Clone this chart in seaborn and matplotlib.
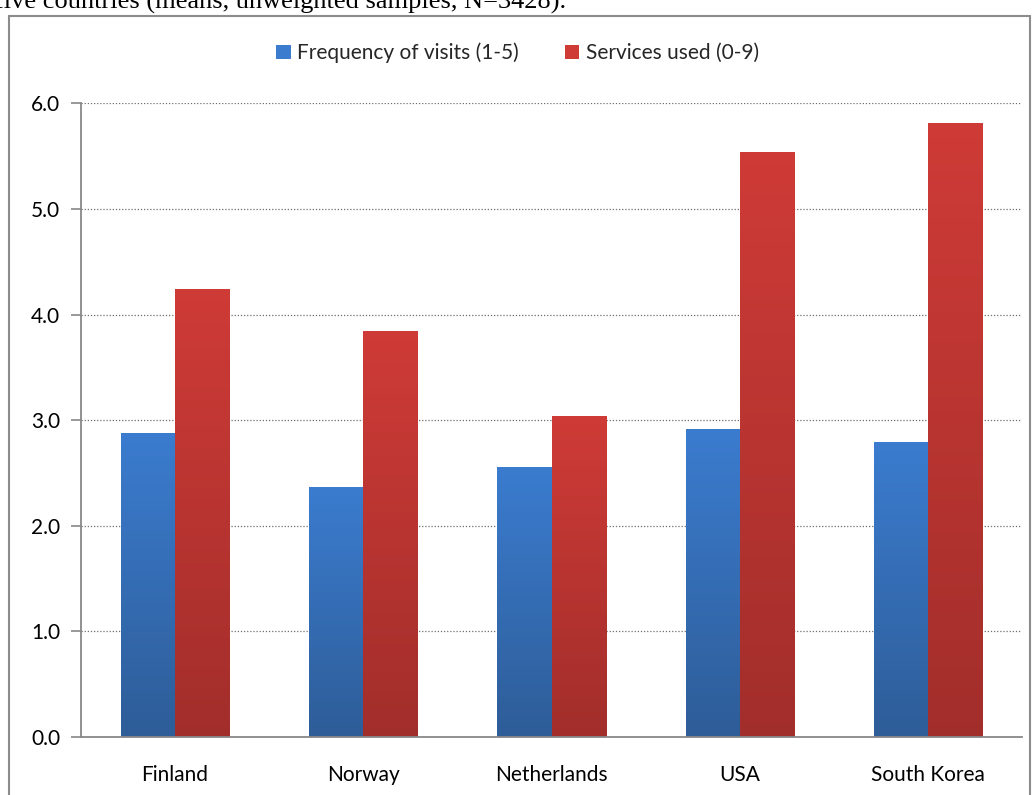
import numpy as np
import pandas as pd
import matplotlib
matplotlib.use("Agg")
import matplotlib.pyplot as plt
import seaborn as sns
from matplotlib.patches import Patch, Rectangle
from matplotlib.colors import to_rgb

countries = ["Finland", "Norway", "Netherlands", "USA", "South Korea"]
frequency = [2.88, 2.37, 2.56, 2.92, 2.79]
services = [4.24, 3.84, 3.04, 5.54, 5.81]
series_names = ["Frequency of visits (1-5)", "Services used (0-9)"]
y_ticks = [0.0, 1.0, 2.0, 3.0, 4.0, 5.0, 6.0]
caption = "five countries (means, unweighted samples, N=3428)."

df = pd.DataFrame({
    "country": countries * 2,
    "value": frequency + services,
    "series": [series_names[0]] * len(countries) + [series_names[1]] * len(countries),
})

sns.set_theme(style="white")
plt.rcParams["font.family"] = ["Lato", "DejaVu Sans"]

fig = plt.figure(figsize=(10.35, 7.95), dpi=100)
ax = fig.add_axes([81 / 1035, 1 - 737 / 795, (1022 - 81) / 1035, (737 - 103.3) / 795])

top_cols = {series_names[0]: "#3b7ccf", series_names[1]: "#cf3b37"}
bot_cols = {series_names[0]: "#2e5d98", series_names[1]: "#a22e2b"}

sns.barplot(data=df, x="country", y="value", hue="series", order=countries,
            hue_order=series_names, palette=top_cols, width=0.575, ax=ax,
            legend=False, saturation=1, edgecolor="none", linewidth=0, zorder=3)

# gradient fill
ncount = len(countries)
for i, patch in enumerate(ax.patches):
    s = series_names[i // ncount]
    c_top = np.array(to_rgb(top_cols[s]))
    c_bot = np.array(to_rgb(bot_cols[s]))
    t = np.linspace(0, 1, 256).reshape(-1, 1, 1)
    arr = c_bot * (1 - t) + c_top * t
    arr = np.repeat(arr, 2, axis=1)
    x0, y0 = patch.get_x(), patch.get_y()
    w, h = patch.get_width(), patch.get_height()
    im = ax.imshow(arr, extent=[x0, x0 + w, y0, y0 + h], origin="lower",
                   aspect="auto", zorder=3.5, interpolation="bilinear")
    im.set_clip_path(patch)

ax.set_xlim(-0.5, len(countries) - 0.5)
ax.set_ylim(0, 6.0)
ax.set_yticks(y_ticks)
ax.set_yticklabels([f"{v:.1f}" for v in y_ticks], fontsize=15, color="black")
ax.set_xticks(range(len(countries)))
ax.set_xticklabels(countries, fontsize=15, color="black")
ax.set_xticks(np.arange(-0.5, len(countries), 1.0), minor=True)
ax.tick_params(axis="x", which="major", length=0, pad=20)
ax.tick_params(axis="x", which="minor", length=8, width=1.2, color="#888888", direction="out")
ax.tick_params(axis="y", which="major", length=7, width=1.2, color="#888888", direction="out", left=True, pad=8)
ax.set_xlabel("")
ax.set_ylabel("")

for v in y_ticks[1:]:
    ax.axhline(v, color="#6e6e6e", linewidth=0.9, linestyle=(0, (1, 1.5)), zorder=1)

for side in ["top", "right"]:
    ax.spines[side].set_visible(False)
for side in ["left", "bottom"]:
    ax.spines[side].set_color("#888888")
    ax.spines[side].set_linewidth(1.3)
ax.spines["bottom"].set_zorder(5)

handles = [Patch(facecolor=top_cols[s], edgecolor="none") for s in series_names]
fig.legend(handles, series_names, loc="center", bbox_to_anchor=(0.5, 1 - 53 / 795),
           ncol=2, frameon=False, fontsize=15, handlelength=0.7, handleheight=0.7,
           handletextpad=0.3, columnspacing=2.2)

fig.patches.append(Rectangle((9 / 1035, -0.05), (1030 - 9) / 1035, 1.05 - 15.5 / 795,
                             transform=fig.transFigure, fill=False,
                             edgecolor="#8c8c8c", linewidth=1.5))

fig.text(-5 / 1035, 1 - 9 / 795, caption, family=["Liberation Serif", "DejaVu Serif"],
         fontsize=19, va="baseline", ha="left", color="black")

fig.savefig("out.png", dpi=100)
